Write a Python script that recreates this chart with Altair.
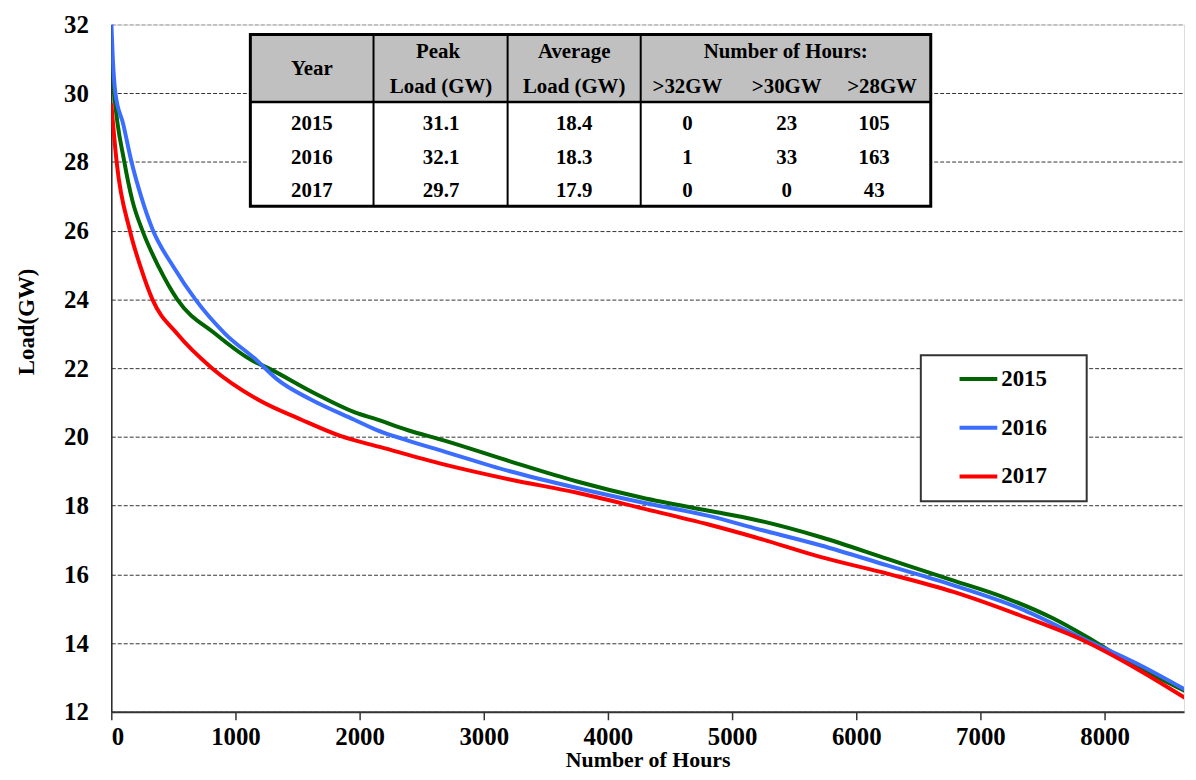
import altair as alt
import pandas as pd

FONT = "'Liberation Serif', 'Times New Roman', Times, 'DejaVu Serif', serif"

years = ["2015", "2016", "2017"]
colors = ["#006400", "#3b6eff", "#ff0000"]

hours_2015 = [0, 23, 105, 171, 251, 384, 531, 837, 1131, 1264, 1637, 1957, 2144, 2384, 2677,
              3211, 3744, 4277, 4811, 5184, 5717, 6251, 6784, 7184, 7584, 7851, 8117, 8651]
load_2015 = [31.1, 30.0, 28.0, 26.86, 26.0, 24.93, 24.0, 23.0, 22.23, 22.0, 21.27, 20.72, 20.5, 20.2, 19.9,
             19.29, 18.71, 18.23, 17.85, 17.59, 17.08, 16.45, 15.82, 15.34, 14.72, 14.19, 13.61, 12.6]

hours_2016 = [0, 1, 11, 33, 96, 163, 240, 331, 504, 677, 917, 1171, 1344, 1611, 1957, 2144, 2384, 2677,
              3211, 3744, 4277, 4811, 5184, 5717, 6251, 6784, 7317, 7851, 8251, 8651]
load_2016 = [32.1, 32.0, 31.1, 30.0, 29.1, 28.0, 27.0, 26.05, 24.93, 24.0, 23.0, 22.23, 21.65, 21.08, 20.5, 20.19, 19.9, 19.58,
             19.0, 18.52, 18.09, 17.7, 17.34, 16.84, 16.26, 15.68, 15.01, 14.09, 13.42, 12.64]

hours_2017 = [0, 43, 150, 237, 331, 531, 811, 1184, 1531, 1851, 2170, 2677, 3211, 3744, 4277, 4811,
              5184, 5717, 6251, 6784, 7317, 7851, 8251, 8651]
load_2017 = [29.7, 28.0, 26.0, 24.93, 24.0, 23.0, 22.0, 21.08, 20.5, 20.02, 19.7, 19.2, 18.76, 18.38, 17.92, 17.45,
             17.08, 16.5, 16.02, 15.49, 14.81, 14.04, 13.27, 12.4]

# table values
table_years = ["2015", "2016", "2017"]
peak_load = [31.1, 32.1, 29.7]
avg_load = [18.4, 18.3, 17.9]
hours_gt32 = [0, 1, 0]
hours_gt30 = [23, 33, 0]
hours_gt28 = [105, 163, 43]

x_ticks = [0, 1000, 2000, 3000, 4000, 5000, 6000, 7000, 8000]
y_ticks = [12, 14, 16, 18, 20, 22, 24, 26, 28, 30, 32]

rows = []
for yr, hs, ls in zip(years, [hours_2015, hours_2016, hours_2017], [load_2015, load_2016, load_2017]):
    for h, l in zip(hs, ls):
        rows.append({"year": yr, "hours": h, "load": l})
df = pd.DataFrame(rows)

dummy = pd.DataFrame({"a": [0]})

x_scale = alt.Scale(domain=[0, 8640], nice=False, zero=False)
y_scale = alt.Scale(domain=[12, 32], nice=False, zero=False)

lines = alt.Chart(df).mark_line(strokeWidth=4, interpolate="monotone", clip=True).encode(
    x=alt.X("hours:Q", scale=x_scale,
            axis=alt.Axis(values=x_ticks, format="d", grid=False,
                          labelFont=FONT, labelFontWeight="bold", labelFontSize=25, labelColor="black",
                          labelPadding=5, tickSize=8, tickColor="#333", tickWidth=1.5,
                          domainColor="#333", domainWidth=2,
                          title="Number of Hours", titleFont=FONT, titleFontWeight="bold",
                          titleFontSize=22, titleColor="black", titleY=55, titleBaseline="alphabetic")),
    y=alt.Y("load:Q", scale=y_scale,
            axis=alt.Axis(values=y_ticks, grid=True, ticks=False,
                          gridColor=alt.condition("datum.value == 32", alt.value("#999999"), alt.value("#333333")),
                          gridDash=[4, 2], gridWidth=1,
                          labelFont=FONT, labelFontWeight="bold", labelFontSize=25, labelColor="black",
                          labelPadding=23, domainColor="#222", domainWidth=1.5,
                          title="Load(GW)", titleFont=FONT, titleFontWeight="bold", titleFontSize=23,
                          titleColor="black", titleAngle=270, titleX=-85, titleY=299,
                          titleAlign="center", titleBaseline="middle")),
    color=alt.Color("year:N", scale=alt.Scale(domain=years, range=colors), legend=None),
)


def txt(s, x, y, size=21, align="center"):
    return alt.Chart(dummy).mark_text(text=s, font=FONT, fontWeight="bold", fontSize=size,
                                      align=align, baseline="middle", color="black").encode(
        x=alt.value(x), y=alt.value(y))


def rect(x, x2, y, y2, fill, stroke=None, sw=0):
    kw = dict(fill=fill)
    if stroke:
        kw.update(stroke=stroke, strokeWidth=sw)
    return alt.Chart(dummy).mark_rect(**kw).encode(
        x=alt.value(x), x2=alt.value(x2), y=alt.value(y), y2=alt.value(y2))


def vrule(x, y, y2, w=2, color="black"):
    return alt.Chart(dummy).mark_rule(strokeWidth=w, color=color).encode(
        x=alt.value(x), y=alt.value(y), y2=alt.value(y2))


def hrule(x, x2, y, w=2, color="black"):
    return alt.Chart(dummy).mark_rule(strokeWidth=w, color=color).encode(
        x=alt.value(x), x2=alt.value(x2), y=alt.value(y))


# table (pixel positions inside plot area)
tl, tr, tt, tm, tb = 140, 825, 10, 78, 183
cols = [264, 399, 533]
layers = [lines,
          rect(tl, tr, tt, tb, "white"),
          rect(tl, tr, tt, tm, "#c0c0c0"),
          hrule(tl, tr, tm, 2.5)]
for c in cols:
    layers.append(vrule(c, tt, tb, 2))
layers.append(rect(tl, tr, tt, tb, "none", "black", 3))

layers += [
    txt("Year", 202, 45),
    txt("Peak", 329, 28), txt("Load (GW)", 332, 63),
    txt("Average", 466, 28), txt("Load (GW)", 466, 63),
    txt("Number of Hours:", 679, 28),
    txt(">32GW", 580, 63), txt(">30GW", 680, 63), txt(">28GW", 776, 63),
]
row_y = [100, 134, 168]
for i, yr in enumerate(table_years):
    y = row_y[i]
    layers += [
        txt(yr, 202, y),
        txt(f"{peak_load[i]:.1f}", 332, y),
        txt(f"{avg_load[i]:.1f}", 466, y),
        txt(str(hours_gt32[i]), 580, y),
        txt(str(hours_gt30[i]), 680, y),
        txt(str(hours_gt28[i]), 768, y),
    ]

# legend box
layers.append(rect(815, 982, 333, 480, "white", "#333333", 2))
leg_y = [357, 406, 455]
for yr, col, ly in zip(years, colors, leg_y):
    layers.append(hrule(854, 892, ly, 4, col))
    layers.append(txt(yr, 896, ly, 23, "left"))

chart = alt.layer(*layers).properties(
    width=1080, height=692,
    autosize=alt.AutoSizeParams(type="none"),
    padding={"left": 104, "top": 14, "right": 4, "bottom": 58},
).configure_view(stroke=None).configure(background="white")

chart.save("out.html", embed_options={"renderer": "svg", "actions": False})
